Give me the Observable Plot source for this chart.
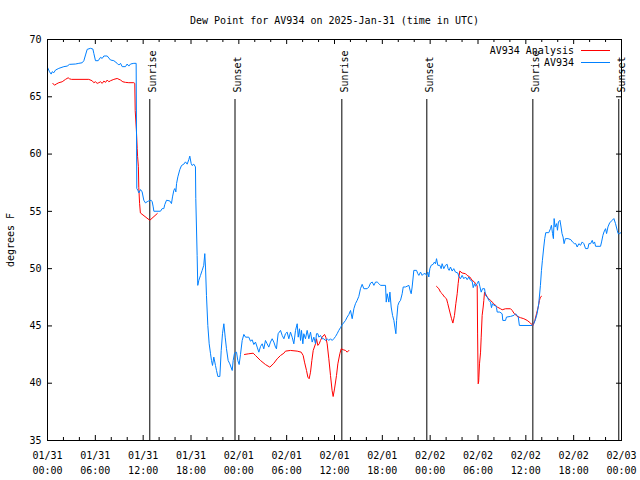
<!DOCTYPE html>
<html>
<head>
<meta charset="utf-8">
<script src="https://cdn.jsdelivr.net/npm/d3@7"></script>
<script src="https://cdn.jsdelivr.net/npm/@observablehq/plot@0.6"></script>
<style>
  html, body { margin: 0; padding: 0; background: #fff; }
  #wrap { position: relative; width: 640px; height: 480px; font-family: "DejaVu Sans Mono", monospace; font-size: 10px; color: #000; }
  #legend { position: absolute; right: 30px; top: 44px; }
  .row { display: flex; justify-content: flex-end; align-items: center; height: 12px; }
  .sw { display: inline-block; width: 29px; height: 0; border-top: 1px solid; margin-left: 7px; }
</style>
</head>
<body>
<div id="wrap"></div>
<script>
// ---- data (hours since 2025-01-31 00:00 UTC) ----
const startDay = [2025, 0, 31];
const title = "Dew Point for AV934 on 2025-Jan-31 (time in UTC)";
const yLabel = "degrees F";
const seriesNames = ["AV934 Analysis", "AV934"];
const seriesColors = ["#ff0000", "#0080ff"];

const obsHours = [0.0,0.25,0.46,0.59,0.79,1.0,1.42,2.05,2.47,2.76,3.51,3.93,4.35,4.56,4.77,4.98,5.39,5.69,5.81,6.02,6.36,6.65,6.86,7.07,7.49,7.9,8.32,8.74,8.95,9.16,9.37,9.78,9.99,10.2,10.41,10.83,11.12,11.2,11.33,11.46,11.67,11.87,12.08,12.29,12.5,12.7,13.0,13.13,13.26,13.34,14.17,14.38,14.59,14.71,14.93,15.34,15.55,15.68,15.85,15.97,16.1,16.19,16.35,16.6,16.81,17.1,17.31,17.52,17.73,17.85,18.02,18.14,18.35,18.56,18.6,18.77,18.85,18.98,19.19,19.4,19.6,19.73,19.82,19.94,20.11,20.28,20.45,20.57,20.7,20.86,21.07,21.2,21.37,21.62,21.79,21.95,22.12,22.29,22.45,22.66,22.87,23.17,23.29,23.46,23.71,23.87,24.04,24.21,24.42,24.63,24.84,25.25,25.46,25.67,25.88,26.09,26.3,26.51,26.72,26.93,27.13,27.34,27.55,27.76,27.97,28.18,28.39,28.6,28.72,28.81,28.93,29.23,29.44,29.65,29.85,30.06,30.27,30.48,30.69,30.9,31.11,31.32,31.45,31.61,31.74,31.86,32.03,32.15,32.36,32.57,32.78,32.99,33.2,33.41,33.62,33.74,33.91,34.04,34.24,34.45,34.66,34.87,35.08,35.29,35.5,35.7,35.91,36.13,36.33,36.54,36.75,36.96,37.38,37.59,37.8,38.01,38.22,38.43,38.63,38.84,39.05,39.26,39.47,39.68,40.1,40.31,40.52,40.73,40.94,41.15,41.36,41.57,41.77,42.4,42.49,42.61,42.82,42.95,43.11,43.28,43.45,43.57,43.7,43.79,43.95,44.11,44.28,44.49,44.62,44.91,45.33,45.54,45.62,45.74,45.87,45.95,46.29,46.45,46.58,46.79,47.0,47.2,47.41,47.54,47.71,47.83,47.96,48.13,48.38,48.54,48.67,48.8,48.96,49.21,49.38,49.5,49.71,49.92,50.13,50.25,50.38,50.55,50.76,50.96,51.17,51.47,51.59,51.8,52.01,52.22,52.43,52.64,52.85,53.06,53.27,53.4,53.57,53.69,53.9,54.07,54.23,54.4,54.57,54.82,54.94,55.15,55.36,55.57,55.69,55.82,55.99,56.2,56.32,56.41,56.74,57.03,57.11,57.45,57.57,58.08,58.5,58.7,58.91,59.04,59.19,60.8,60.99,61.2,61.41,61.62,61.83,61.96,62.08,62.25,62.37,62.5,62.88,63.09,63.21,63.35,63.46,63.55,63.67,63.86,63.97,64.09,64.28,64.42,64.54,64.67,64.8,64.96,65.3,65.64,65.85,66.1,66.27,66.44,66.65,66.86,67.07,67.28,67.49,67.78,67.91,68.12,68.33,68.46,68.62,68.75,69.37,69.5,69.67,69.8,70.0,70.13,70.3,70.51,70.83,71.04,71.25,71.46,71.58,71.79,72.0];
const obsValues = [67.57,67.19,66.98,67.19,67.1,67.33,67.48,67.63,67.68,67.83,67.86,67.92,67.97,68.15,68.65,69.14,69.23,69.17,68.79,68.15,68.15,68.44,68.35,68.56,68.56,68.21,68.15,67.92,67.77,67.92,67.63,67.63,67.86,67.68,67.86,67.92,67.92,57.0,56.84,56.61,56.9,56.7,55.97,55.74,55.84,55.91,55.97,55.84,55.39,55.01,55.01,55.24,55.24,55.59,55.97,55.91,55.68,56.26,56.84,56.99,56.7,57.43,58.01,58.65,59.0,59.12,59.32,59.12,59.53,59.82,59.18,59.0,59.12,58.88,56.12,51.16,48.54,48.98,49.41,49.85,50.29,51.31,50.14,47.67,45.04,43.44,42.57,41.98,41.55,42.28,41.55,41.11,40.59,40.59,42.86,44.32,45.19,44.02,43.01,41.98,41.69,41.11,41.98,42.62,42.71,41.98,41.63,42.52,43.73,44.26,44.02,44.02,43.67,43.79,43.38,43.59,43.15,42.71,43.21,43.44,43.0,43.73,43.44,43.15,43.59,43.88,43.59,43.15,43.0,43.59,44.32,44.61,44.17,43.88,44.32,44.46,43.88,44.46,44.02,43.44,44.61,45.19,44.02,44.75,43.73,44.61,43.44,44.32,43.88,44.61,43.88,44.46,43.59,44.02,43.44,44.32,44.32,44.02,44.17,43.88,43.88,43.73,43.88,43.73,43.88,43.73,43.88,44.08,44.32,44.61,44.85,45.1,45.48,45.77,46.0,46.35,45.63,46.5,46.94,47.23,47.58,48.25,48.63,48.25,48.25,48.4,48.74,48.83,48.54,48.83,48.83,48.69,48.54,48.54,47.08,47.81,47.08,47.95,46.65,45.92,45.48,44.9,44.32,45.48,46.79,47.08,47.23,47.81,48.4,48.4,48.54,47.95,47.81,48.4,49.27,49.85,49.85,49.56,49.41,49.7,49.41,49.56,49.56,49.41,49.7,49.27,50.0,50.29,50.38,50.58,50.43,50.87,50.29,50.29,50.0,50.43,50.0,50.29,50.38,50.0,49.85,50.14,49.79,50.0,49.7,49.62,49.33,49.12,49.41,49.12,49.27,49.04,49.27,48.98,48.9,48.34,48.69,48.46,48.69,48.92,48.46,47.95,48.25,48.25,47.67,47.52,47.23,47.08,46.59,46.94,46.79,46.79,46.59,46.21,46.21,46.06,45.48,45.48,45.77,45.83,45.92,46.06,45.92,45.83,45.04,45.04,45.19,45.54,46.06,46.94,48.54,49.85,50.73,51.89,52.62,53.14,53.14,53.49,53.78,53.06,52.62,54.37,53.63,53.93,53.35,54.08,54.22,53.63,53.06,52.76,52.18,52.62,52.62,52.53,52.33,52.18,52.18,51.89,52.18,52.04,52.33,52.18,51.75,51.75,52.18,52.18,52.47,52.18,52.33,51.95,51.95,52.33,52.91,53.2,53.49,53.06,53.64,53.99,54.22,54.37,53.93,53.35,53.06,53.06,53.2];

// null breaks the analysis line into its three segments
const anaHours = [0.67,0.88,1.09,1.42,1.84,2.26,2.59,2.76,3.01,5.18,5.6,5.81,6.02,6.23,6.44,6.65,6.86,7.07,7.28,7.49,7.7,7.9,8.32,8.74,9.16,9.45,9.78,10.2,10.83,10.95,11.0,11.15,11.25,11.3,11.4,11.45,11.55,11.65,12.83,13.77,
  13.9,
  24.71,25.25,25.8,26.09,26.72,27.34,27.89,28.39,28.81,29.23,29.65,29.85,30.48,31.32,31.82,32.07,32.24,32.49,32.66,32.82,32.99,33.16,33.33,33.62,33.74,33.91,34.08,34.24,34.45,34.75,34.91,35.08,35.29,35.5,35.7,35.83,36.0,36.25,36.42,36.67,36.84,37.09,37.38,37.59,37.8,
  38.0,
  48.8,49.09,49.3,49.5,49.8,50.05,50.21,50.47,50.68,50.85,51.05,51.22,51.39,51.51,51.64,51.72,52.01,52.43,52.64,52.97,53.27,53.56,53.69,53.9,53.95,54.02,54.08,54.11,54.19,54.32,54.4,54.52,54.65,54.73,54.82,54.94,55.15,55.36,55.57,55.78,55.99,56.2,56.41,56.82,57.03,57.45,58.08,58.29,58.5,58.91,59.33,59.75,60.17,60.59,60.88,61.13,61.34,61.55,61.71,61.83,61.96];
const anaValues = [66.17,66.01,66.11,66.23,66.31,66.52,66.66,66.57,66.52,66.52,66.4,66.23,66.31,66.17,66.23,66.31,66.17,66.37,66.26,66.46,66.31,66.4,66.52,66.6,66.46,66.31,66.26,66.23,66.23,66.17,63.8,62.1,60.5,59.8,58.9,57.1,55.7,54.86,54.22,54.81,
  null,
  42.51,42.57,42.62,42.42,41.98,41.63,41.4,41.74,42.13,42.42,42.62,42.8,42.86,42.8,42.71,42.42,41.84,41.11,40.53,40.39,40.96,41.98,42.86,43.44,43.88,43.3,43.44,43.73,44.02,44.26,44.02,43.44,42.13,40.67,39.36,38.84,39.5,40.67,41.69,42.57,43.01,42.92,42.86,42.71,42.86,
  null,
  48.45,48.25,47.95,47.81,47.52,47.37,46.94,46.21,45.63,45.25,45.92,46.94,47.81,48.69,49.41,49.79,49.62,49.56,49.41,49.27,48.98,48.83,48.69,48.5,44.3,39.95,40.1,40.53,41.69,42.71,44.02,45.92,46.65,47.23,47.95,47.81,47.52,47.38,47.23,47.08,46.94,46.79,46.65,46.5,46.41,46.5,46.5,46.35,46.12,45.83,45.72,45.63,45.48,45.25,45.04,45.48,46.06,46.65,47.23,47.52,47.58];

const eventHours = [12.83, 23.52, 36.92, 47.58, 60.88, 71.66];
const eventLabels = ["Sunrise", "Sunset", "Sunrise", "Sunset", "Sunrise", "Sunset"];

const yTicks = [35, 40, 45, 50, 55, 60, 65, 70];
const xMajorHours = [0, 6, 12, 18, 24, 30, 36, 42, 48, 54, 60, 66, 72];
const xMinorHours = [2, 4, 8, 10, 14, 16, 20, 22, 26, 28, 32, 34, 38, 40, 44, 46, 50, 52, 56, 58, 62, 64, 68, 70];

// ---- build ----
const START = Date.UTC(...startDay);
const toDate = h => new Date(START + h * 3600e3);
const obs = obsHours.map((h, i) => ({date: toDate(h), value: obsValues[i]}));
const ana = anaHours.map((h, i) => ({date: toDate(h), value: anaValues[i]}));
const events = eventHours.map((h, i) => ({date: toDate(h), label: eventLabels[i]}));
const fmt = d3.utcFormat("%m/%d\n%H:%M");

const W = 640, H = 480, mL = 47, mR = 19, mT = 39, mB = 40;
const innerW = W - mL - mR, innerH = H - mT - mB;
const majorLen = 5, minorLen = 3;

const chart = Plot.plot({
  width: W, height: H,
  marginLeft: mL, marginRight: mR, marginTop: mT, marginBottom: mB,
  style: {fontFamily: "'DejaVu Sans Mono', monospace", fontSize: "10px", background: "#fff", color: "#000", overflow: "visible"},
  x: {type: "utc", domain: [toDate(xMajorHours[0]), toDate(xMajorHours[xMajorHours.length - 1])]},
  y: {domain: [yTicks[0], yTicks[yTicks.length - 1]]},
  marks: [
    // inward ticks on all four sides
    Plot.tickY(yTicks, {y: d => d, insetRight: innerW - majorLen, stroke: "#000"}),
    Plot.tickY(yTicks, {y: d => d, insetLeft: innerW - majorLen, stroke: "#000"}),
    Plot.tickX(xMajorHours, {x: toDate, insetTop: innerH - majorLen, stroke: "#000"}),
    Plot.tickX(xMajorHours, {x: toDate, insetBottom: innerH - majorLen, stroke: "#000"}),
    Plot.tickX(xMinorHours, {x: toDate, insetTop: innerH - minorLen, stroke: "#000"}),
    Plot.tickX(xMinorHours, {x: toDate, insetBottom: innerH - minorLen, stroke: "#000"}),
    Plot.axisY({ticks: yTicks, tickSize: 0, tickPadding: 6, label: yLabel, labelAnchor: "center", labelArrow: "none", labelOffset: 41}),
    Plot.axisX({ticks: xMajorHours.map(toDate), tickSize: 0, tickPadding: 8, tickFormat: fmt, label: null, lineHeight: 1.5}),
    // sunrise / sunset
    Plot.ruleX(events, {x: "date", insetTop: 60, stroke: "#000"}),
    Plot.text(events, {x: "date", text: "label", frameAnchor: "top", rotate: -90, textAnchor: "start", dy: 53, dx: -1}),
    // series
    Plot.line(ana, {x: "date", y: "value", stroke: seriesColors[0], strokeWidth: 1}),
    Plot.line(obs, {x: "date", y: "value", stroke: seriesColors[1], strokeWidth: 1}),
    Plot.frame({stroke: "#000"}),
    Plot.text([title], {frameAnchor: "top", dy: -23})
  ]
});

const wrap = document.getElementById("wrap");
wrap.appendChild(chart);

// legend
const legend = document.createElement("div");
legend.id = "legend";
seriesNames.forEach((name, i) => {
  const row = document.createElement("div");
  row.className = "row";
  const label = document.createElement("span");
  label.textContent = name;
  const sw = document.createElement("span");
  sw.className = "sw";
  sw.style.borderTopColor = seriesColors[i];
  row.appendChild(label);
  row.appendChild(sw);
  legend.appendChild(row);
});
wrap.appendChild(legend);
</script>
</body>
</html>
